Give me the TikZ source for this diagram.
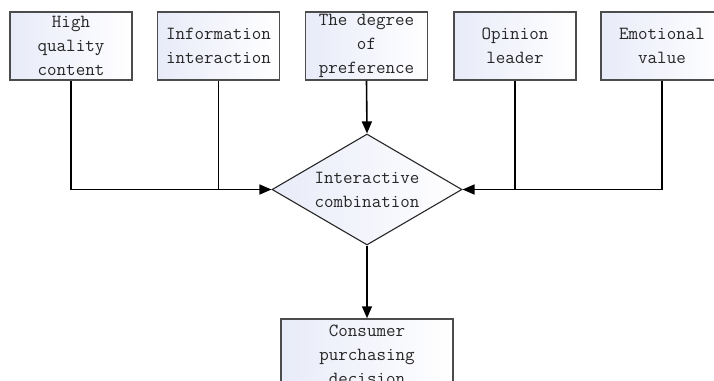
\documentclass[tikz,border=0pt]{standalone}
\usepackage{fontspec}
\usetikzlibrary{shapes.geometric,arrows.meta}
\definecolor{boxshade}{rgb}{0.91,0.92,0.975}
\definecolor{boxline}{rgb}{0.30,0.30,0.30}
\definecolor{txt}{rgb}{0.15,0.15,0.15}
\tikzset{
  factor/.style={draw=boxline, line width=1.5pt, left color=boxshade, right color=white,
    minimum width=122pt, minimum height=68pt, inner sep=0pt, align=center,
    text=txt, font=\ttfamily\fontsize{18.5}{24}\selectfont},
  combo/.style={diamond, draw=black!85, line width=1.1pt, left color=boxshade, right color=white,
    aspect=1.71, minimum width=190pt, minimum height=111pt, inner sep=0pt, align=center,
    text=txt, font=\ttfamily\fontsize{18.5}{24}\selectfont},
  link/.style={black, line width=1.6pt},
  arr/.style={link, -{Triangle[length=12pt,width=10pt]}}
}
\begin{document}
\begin{tikzpicture}[x=1pt,y=-1pt]
\useasboundingbox (0,0) rectangle (714,380);
\clip (0,0) rectangle (714,380);
\node[factor] (b1) at (71,46) {High\\quality\\content};
\node[factor] (b2) at (218.5,46) {Information\\interaction};
\node[factor] (b3) at (366.5,46) {The degree\\of\\preference};
\node[factor] (b4) at (515,46) {Opinion\\leader};
\node[factor] (b5) at (662,46) {Emotional\\value};
\node[combo] (dia) at (367,189.5) {Interactive\\combination};
\node[factor, minimum width=172pt, minimum height=72pt] (dec) at (367,355) {Consumer\\purchasing\\decision};
\draw[arr] (b1.south) |- (dia.west);
\draw[link] (b2.south) -- (b2.south |- dia.west);
\draw[arr] (b5.south) |- (dia.east);
\draw[link] (b4.south) -- (b4.south |- dia.east);
\draw[arr] (b3.south) -- (dia.north);
\draw[arr] (dia.south) -- (dec.north);
\end{tikzpicture}
\end{document}
